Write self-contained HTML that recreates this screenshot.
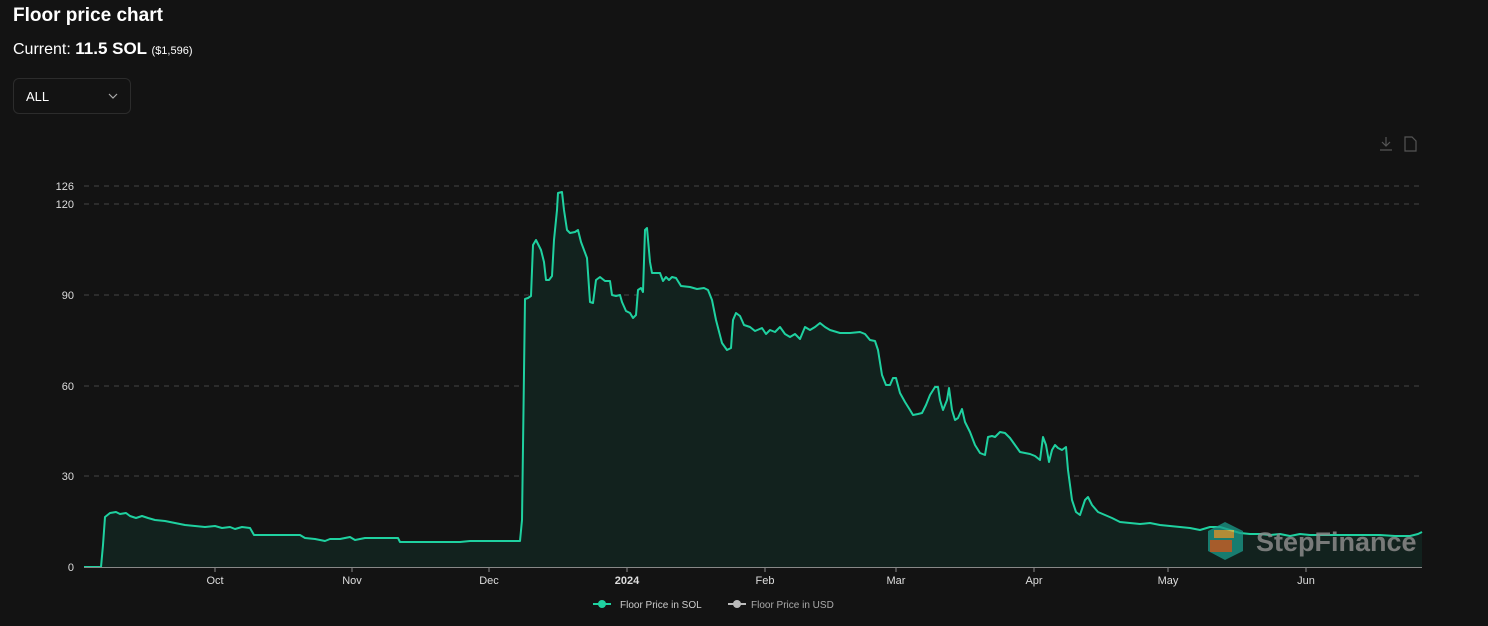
<!DOCTYPE html>
<html><head><meta charset="utf-8"><style>
html,body{margin:0;padding:0;background:#131313;width:1488px;height:626px;overflow:hidden;font-family:"Liberation Sans",sans-serif;color:#fff}
.t{position:absolute;left:13px;top:5px;font-size:19px;font-weight:bold}
.c{position:absolute;left:13px;top:39px;font-size:16px}
.c b{font-size:17px}.c small{font-size:11px}
.sel{position:absolute;left:13px;top:78px;width:118px;height:36px;border:1px solid #2c2c2c;border-radius:6px;box-sizing:border-box}
.sel span{position:absolute;left:12px;top:10px;font-size:13px}
</style></head><body>
<div class="t">Floor price chart</div>
<div class="c">Current: <b>11.5 SOL</b> <small>($1,596)</small></div>
<div class="sel"><span>ALL</span><svg style="position:absolute;left:94px;top:14px" width="10" height="7"><path d="M1 1L5 5L9 1" stroke="#aaa" fill="none" stroke-width="1.2"/></svg></div>
<svg width="1488" height="626" style="position:absolute;left:0;top:0">
<g stroke="#444" stroke-dasharray="5,5" stroke-width="1">
<line x1="84" x2="1422" y1="186" y2="186"/><line x1="84" x2="1422" y1="204" y2="204"/>
<line x1="84" x2="1422" y1="295" y2="295"/><line x1="84" x2="1422" y1="386" y2="386"/><line x1="84" x2="1422" y1="476" y2="476"/>
</g>
<g fill="#ddd" font-size="11" text-anchor="end"><text x="74" y="190">126</text><text x="74" y="208">120</text><text x="74" y="299">90</text><text x="74" y="390">60</text><text x="74" y="480">30</text><text x="74" y="571">0</text></g>
<path id="p" fill="#12221e" stroke="none" d="M84,567 L101,567 103,545 105,517 110,513 116,512 120,514 126,513 130,516 136,518 142,516 148,518 155,520 165,521 175,523 185,525 195,526 205,527 215,526 222,528 230,527 235,529 242,527 250,528 254,535 270,535 300,535 305,538 315,539 325,541 330,539 340,539 350,537 355,540 360,539 365,538 398,538 400,542 420,542 460,542 470,541 520,541 522,520 525,299 528,298 531,296 533,245 536,240 541,250 544,262 546,280 549,280 552,276 554,240 557,210 558,193 562,192 564,210 567,230 570,233 575,232 578,230 581,242 584,250 587,258 590,302 593,303 596,280 600,277 605,281 610,281 612,295 616,296 620,295 622,302 626,311 630,313 633,318 636,315 638,290 641,288 643,292 645,230 647,228 650,262 652,273 660,273 663,281 666,277 669,280 672,277 676,278 681,286 690,287 697,289 704,288 708,290 712,300 716,320 722,343 727,350 731,348 733,320 736,313 740,316 744,325 750,327 755,331 762,328 766,334 770,330 775,332 780,327 785,334 790,337 795,334 800,339 805,327 810,330 815,327 820,323 825,327 830,330 840,333 850,333 860,332 865,334 870,340 875,341 878,350 882,375 886,385 890,385 893,378 896,378 900,393 905,402 910,410 913,415 918,414 922,413 926,405 930,395 935,387 938,387 940,400 943,410 947,400 949,388 952,410 955,420 958,418 962,409 965,422 970,432 975,445 980,453 985,455 988,437 992,436 995,437 1000,432 1005,433 1010,438 1015,445 1020,452 1030,454 1035,456 1040,460 1043,437 1046,445 1049,462 1052,450 1055,445 1058,448 1062,450 1066,447 1068,470 1072,500 1076,512 1080,515 1085,500 1088,497 1092,505 1098,512 1105,515 1112,518 1120,522 1130,523 1140,524 1150,523 1160,525 1170,526 1180,527 1190,528 1200,530 1210,527 1220,527 1230,530 1240,533 1250,534 1260,534 1270,535 1280,534 1290,536 1300,534 1310,535 1320,535 1340,535 1360,535 1380,535 1395,536 1410,536 1418,534 1422,532 L1422,567 Z"/>
<polyline fill="none" stroke="#1fd1a0" stroke-width="2" stroke-linejoin="round" points="84,567 101,567 103,545 105,517 110,513 116,512 120,514 126,513 130,516 136,518 142,516 148,518 155,520 165,521 175,523 185,525 195,526 205,527 215,526 222,528 230,527 235,529 242,527 250,528 254,535 270,535 300,535 305,538 315,539 325,541 330,539 340,539 350,537 355,540 360,539 365,538 398,538 400,542 420,542 460,542 470,541 520,541 522,520 525,299 528,298 531,296 533,245 536,240 541,250 544,262 546,280 549,280 552,276 554,240 557,210 558,193 562,192 564,210 567,230 570,233 575,232 578,230 581,242 584,250 587,258 590,302 593,303 596,280 600,277 605,281 610,281 612,295 616,296 620,295 622,302 626,311 630,313 633,318 636,315 638,290 641,288 643,292 645,230 647,228 650,262 652,273 660,273 663,281 666,277 669,280 672,277 676,278 681,286 690,287 697,289 704,288 708,290 712,300 716,320 722,343 727,350 731,348 733,320 736,313 740,316 744,325 750,327 755,331 762,328 766,334 770,330 775,332 780,327 785,334 790,337 795,334 800,339 805,327 810,330 815,327 820,323 825,327 830,330 840,333 850,333 860,332 865,334 870,340 875,341 878,350 882,375 886,385 890,385 893,378 896,378 900,393 905,402 910,410 913,415 918,414 922,413 926,405 930,395 935,387 938,387 940,400 943,410 947,400 949,388 952,410 955,420 958,418 962,409 965,422 970,432 975,445 980,453 985,455 988,437 992,436 995,437 1000,432 1005,433 1010,438 1015,445 1020,452 1030,454 1035,456 1040,460 1043,437 1046,445 1049,462 1052,450 1055,445 1058,448 1062,450 1066,447 1068,470 1072,500 1076,512 1080,515 1085,500 1088,497 1092,505 1098,512 1105,515 1112,518 1120,522 1130,523 1140,524 1150,523 1160,525 1170,526 1180,527 1190,528 1200,530 1210,527 1220,527 1230,530 1240,533 1250,534 1260,534 1270,535 1280,534 1290,536 1300,534 1310,535 1320,535 1340,535 1360,535 1380,535 1395,536 1410,536 1418,534 1422,532"/>
<line x1="84" x2="1422" y1="567.5" y2="567.5" stroke="#888"/>
<g stroke="#888"><line x1="215" x2="215" y1="567" y2="572"/><line x1="352" x2="352" y1="567" y2="572"/><line x1="489" x2="489" y1="567" y2="572"/><line x1="627" x2="627" y1="567" y2="572"/><line x1="765" x2="765" y1="567" y2="572"/><line x1="896" x2="896" y1="567" y2="572"/><line x1="1034" x2="1034" y1="567" y2="572"/><line x1="1168" x2="1168" y1="567" y2="572"/><line x1="1306" x2="1306" y1="567" y2="572"/></g>
<g fill="#ddd" font-size="11" text-anchor="middle"><text x="215" y="584">Oct</text><text x="352" y="584">Nov</text><text x="489" y="584">Dec</text><text x="627" y="584" font-weight="bold">2024</text><text x="765" y="584">Feb</text><text x="896" y="584">Mar</text><text x="1034" y="584">Apr</text><text x="1168" y="584">May</text><text x="1306" y="584">Jun</text></g>
<g opacity="0.75"><polygon points="1225,522 1243,531 1243,551 1225,560 1208,551 1208,531" fill="#1a9b8a"/><rect x="1214" y="530" width="20" height="8" fill="#e8b040"/><rect x="1210" y="540" width="22" height="12" fill="#d87030"/></g>
<text x="1256" y="551" fill="#8a8a8a" font-size="27" font-weight="bold" opacity="0.85">StepFinance</text>
<line x1="593" x2="611" y1="604" y2="604" stroke="#1fd1a0" stroke-width="2"/><circle cx="602" cy="604" r="4" fill="#1fd1a0"/>
<text x="620" y="608" fill="#ccc" font-size="10">Floor Price in SOL</text>
<line x1="728" x2="746" y1="604" y2="604" stroke="#bbb" stroke-width="2"/><circle cx="737" cy="604" r="4" fill="#bbb"/>
<text x="751" y="608" fill="#aaa" font-size="10">Floor Price in USD</text>
<g stroke="#555" fill="none" stroke-width="1.2"><path d="M1386 137v9M1382 142l4 4 4-4M1380 150h12"/><path d="M1405 137h7l4 4v10h-11z"/></g>
</svg>
</body></html>
